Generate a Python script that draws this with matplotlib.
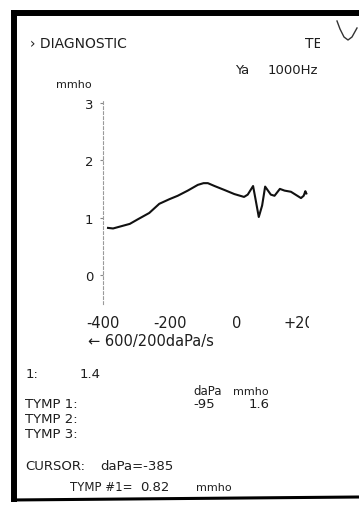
import matplotlib
matplotlib.use("Agg")
import matplotlib.pyplot as plt
from matplotlib.lines import Line2D
from matplotlib.transforms import Bbox, TransformedBbox

# ---- data ----
pressure = [-385, -370, -345, -320, -296, -262, -232, -202, -177, -147, -117, -100, -87,
            -67, -37, -8, 21, 32, 48, 55, 65, 75, 84, 101, 112, 128, 142, 161, 191, 199, 204, 207]
admittance = [0.82, 0.81, 0.85, 0.89, 0.97, 1.08, 1.24, 1.32, 1.38, 1.47, 1.57, 1.60, 1.60,
              1.55, 1.48, 1.41, 1.36, 1.40, 1.55, 1.33, 1.01, 1.21, 1.54, 1.40, 1.38, 1.50,
              1.47, 1.45, 1.34, 1.38, 1.46, 1.42]
x_ticks = [-400, -200, 0, 200]
x_tick_labels = ["-400", "-200", "0", "+200"]
y_ticks = [0, 1, 2, 3]
ecv_value = 1.4
tymp_pressure = -95
tymp_peak = 1.6
cursor_pressure = -385
cursor_value = 0.82

W, H = 359, 506
fig = plt.figure(figsize=(W / 100, H / 100), dpi=100)
fig.patch.set_facecolor("white")
TXT = "#1e1e1e"

def px(x, y):
    return x / W, 1 - y / H

def label(x, y, s, size=9.5, **kw):
    fx, fy = px(x, y)
    return fig.text(fx, fy, s, fontsize=size, color=TXT, ha="left", va="center",
                    family="DejaVu Sans", **kw)

# ---- axes ----
left_px, right_px, top_px, bottom_px = 103, 310.7, 101, 304.6
ax = fig.add_axes([left_px / W, 1 - bottom_px / H, (right_px - left_px) / W, (bottom_px - top_px) / H])
ax.set_xlim(-400, 220)
ax.set_ylim(-0.5, 3.05)
ax.plot(pressure, admittance, color="#111111", lw=1.5, solid_joinstyle="round")
for s in ["top", "right", "bottom"]:
    ax.spines[s].set_visible(False)
ax.spines["left"].set_color("#9a9a9a")
ax.spines["left"].set_linewidth(0.8)
ax.spines["left"].set_linestyle((0, (2.5, 2)))
ax.set_yticks(y_ticks)
ax.set_yticklabels([str(v) for v in y_ticks])
ax.set_xticks(x_ticks)
ax.set_xticklabels(x_tick_labels)
ax.tick_params(axis="y", length=2, width=0.8, color="#888888", pad=5, labelsize=9.5, labelcolor=TXT)
ax.tick_params(axis="x", length=0, pad=8, labelsize=10.5, labelcolor=TXT)
clip = TransformedBbox(Bbox([[0, 0], [309 / W, 1]]), fig.transFigure)
for t in ax.get_xticklabels():
    t.set_clip_on(True)
    t.set_clip_box(clip)

# ---- header texts ----
label(30, 44, "\u203a DIAGNOSTIC", 10)
t = label(305, 44, "TEST", 10, clip_on=True)
t.set_clip_box(TransformedBbox(Bbox([[0, 0], [320 / W, 1]]), fig.transFigure))
label(235, 70, "Ya", 9.5)
label(268, 70, "1000Hz", 9.5)
label(56, 85, "mmho", 8)
label(88, 342, "\u2190 600/200daPa/s", 10.5)

# ---- results ----
label(26, 375, "1:", 9.5)
label(80, 375, f"{ecv_value:.1f}", 9.5)
label(193, 392, "daPa", 8.5)
label(233, 392, "mmho", 8)
label(25, 405, "TYMP 1:", 9.5)
label(193, 405, f"{tymp_pressure}", 9.5)
label(249, 405, f"{tymp_peak:.1f}", 9.5)
label(25, 420, "TYMP 2:", 9.5)
label(25, 434, "TYMP 3:", 9.5)
label(25, 467, "CURSOR:", 9.5)
label(100, 467, f"daPa={cursor_pressure}", 9.5)
label(70, 488, "TYMP #1=", 8.5)
label(140, 488, f"{cursor_value:.2f}", 9.5)
label(196, 488, "mmho", 8)

# ---- frame of the printout ----
fig.add_artist(Line2D([13.5 / W, 13.5 / W], [1 - 11 / H, 1 - 503 / H], color="black", lw=4.3,
                      transform=fig.transFigure, solid_capstyle="butt"))
fig.add_artist(Line2D([11 / W, 1], [1 - 14 / H, 1 - 14 / H], color="black", lw=4.3,
                      transform=fig.transFigure, solid_capstyle="butt"))
fig.add_artist(Line2D([11 / W, 1], [1 - 501 / H, 1 - 498 / H], color="black", lw=2.2,
                      transform=fig.transFigure, solid_capstyle="butt"))
# handwritten check mark
fig.add_artist(Line2D([337 / W, 340 / W, 344 / W, 348 / W, 352 / W, 357 / W],
                      [1 - 22 / H, 1 - 30 / H, 1 - 38 / H, 1 - 41 / H, 1 - 38 / H, 1 - 29 / H],
                      color="#333333", lw=1.0, transform=fig.transFigure))

fig.savefig("out.png", dpi=100, facecolor="white")
